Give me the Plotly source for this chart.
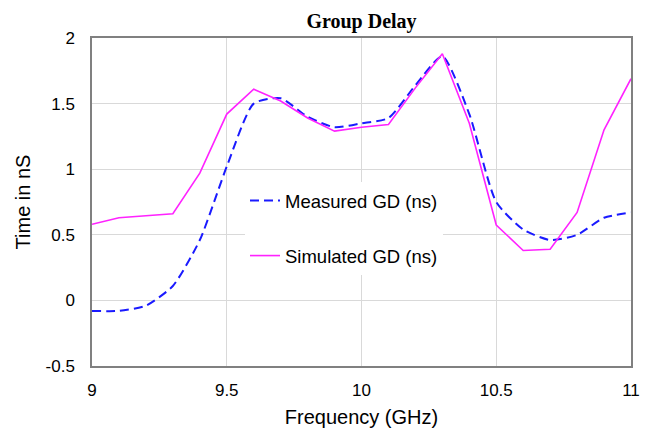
import plotly.graph_objects as go

freq = [9.0, 9.1, 9.2, 9.3, 9.4, 9.5, 9.6, 9.7, 9.8, 9.9, 10.0,
        10.1, 10.2, 10.3, 10.4, 10.5, 10.6, 10.7, 10.8, 10.9, 11.0]
measured = [-0.08, -0.08, -0.04, 0.11, 0.46, 1.02, 1.50, 1.54, 1.40, 1.32, 1.35,
            1.39, 1.64, 1.86, 1.42, 0.75, 0.54, 0.46, 0.50, 0.63, 0.67]
simulated = [0.58, 0.63, 0.645, 0.66, 0.97, 1.42, 1.61, 1.52, 1.39, 1.29, 1.32,
             1.34, 1.62, 1.88, 1.35, 0.575, 0.38, 0.39, 0.67, 1.30, 1.69]

x_ticks = [9, 9.5, 10, 10.5, 11]
x_ticklabels = ["9", "9.5", "10", "10.5", "11"]
y_ticks = [-0.5, 0, 0.5, 1, 1.5, 2]
y_ticklabels = ["-0.5", "0", "0.5", "1", "1.5", "2"]

fig = go.Figure()
fig.add_trace(go.Scatter(
    x=freq, y=measured, mode="lines", name="Measured GD (ns)",
    legendgroup="m",
    line=dict(color="#1a1aff", width=2, dash="9px,5px", shape="spline", smoothing=0.6),
))
fig.add_trace(go.Scatter(
    x=freq, y=simulated, mode="lines", name="Simulated GD (ns)",
    legendgroup="s",
    line=dict(color="#ff22ff", width=1.6),
))

font = "Liberation Sans, Arial, sans-serif"
fig.update_layout(
    width=648, height=428,
    margin=dict(l=92, r=17, t=38, b=62, autoexpand=False),
    paper_bgcolor="white", plot_bgcolor="white",
    title=dict(text="<b>Group Delay</b>", x=0.5, xref="paper", xanchor="center",
               y=1 - 21 / 428, yanchor="middle", automargin=False,
               font=dict(family="Liberation Serif, Times New Roman, serif", size=20, color="black")),
    showlegend=True,
    legend=dict(x=(245 - 92) / 539, y=(366 - 182) / 328, xanchor="left", yanchor="top",
                bgcolor="white", borderwidth=0, tracegroupgap=28,
                font=dict(family=font, size=18.5, color="black")),
    xaxis=dict(range=[9, 11], tickvals=x_ticks, ticktext=x_ticklabels,
               showgrid=True, gridcolor="#d9d9d9", gridwidth=1, automargin=False,
               showline=True, linecolor="#808080", linewidth=1.5, mirror=True,
               ticks="", ticklabelstandoff=8, zeroline=False,
               tickfont=dict(family=font, size=17, color="black"),
               title=dict(text="Frequency (GHz)", standoff=18,
                          font=dict(family=font, size=20, color="black"))),
    yaxis=dict(range=[-0.5, 2], tickvals=y_ticks, ticktext=y_ticklabels,
               showgrid=True, gridcolor="#d9d9d9", gridwidth=1, automargin=False,
               showline=True, linecolor="#808080", linewidth=1.5, mirror=True,
               ticks="", ticklabelstandoff=12, zeroline=False,
               tickfont=dict(family=font, size=17, color="black"),
               title=dict(text="Time in nS", standoff=10,
                          font=dict(family=font, size=20, color="black"))),
)

fig.write_html("out.html", config={"displayModeBar": False},
               post_script="document.body.style.margin='0';document.body.style.overflow='hidden';")
